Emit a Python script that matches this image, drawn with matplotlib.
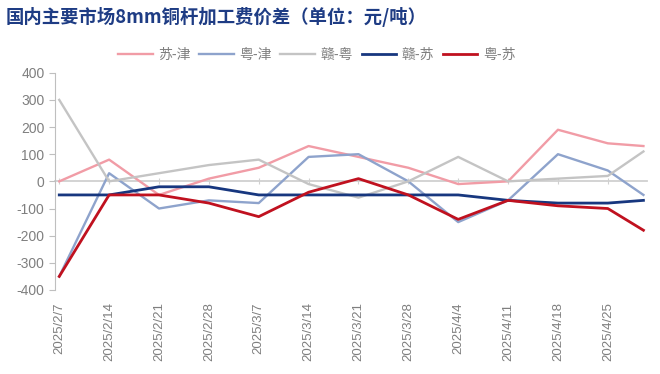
import datetime as dt
import matplotlib
matplotlib.use("Agg")
import matplotlib.pyplot as plt

plt.rcParams['font.family'] = ['Noto Sans CJK SC', 'DejaVu Sans']
plt.rcParams['axes.unicode_minus'] = False

# weekly dates, last point is 2025/4/30
dates = ["2025-02-07", "2025-02-14", "2025-02-21", "2025-02-28", "2025-03-07",
         "2025-03-14", "2025-03-21", "2025-03-28", "2025-04-04", "2025-04-11",
         "2025-04-18", "2025-04-25", "2025-04-30"]
tick_dates = dates[:-1]

su_jin = [0, 80, -50, 10, 50, 130, 90, 50, -10, 0, 190, 140, 130]
yue_jin = [-350, 30, -100, -70, -80, 90, 100, 0, -150, -70, 100, 40, -50]
gan_yue = [300, 0, 30, 60, 80, -10, -60, 0, 90, 0, 10, 20, 110]
gan_su = [-50, -50, -20, -20, -50, -50, -50, -50, -50, -70, -80, -80, -70]
yue_su = [-350, -50, -50, -80, -130, -40, 10, -50, -140, -70, -90, -100, -180]

series_names = ["苏-津", "粤-津", "赣-粤", "赣-苏", "粤-苏"]
series_vals = [su_jin, yue_jin, gan_yue, gan_su, yue_su]
colors = ["#F19CA6", "#8EA3CC", "#C4C4C4", "#17377F", "#C0111F"]
widths = [1.7, 1.7, 1.7, 2.0, 2.0]

x = [dt.datetime.strptime(d, "%Y-%m-%d") for d in dates]
xt = [dt.datetime.strptime(d, "%Y-%m-%d") for d in tick_dates]

fig = plt.figure(figsize=(6.6, 3.74), dpi=100)
ax = fig.add_axes([0.0833, 0.2246, 0.897, 0.581])

for name, vals, c, w in zip(series_names, series_vals, colors, widths):
    ax.plot(x, vals, color=c, lw=w, label=name, zorder=3)

ax.set_ylim(-400, 400)
ax.set_yticks(range(-400, 401, 100))
ax.set_xlim(x[0] - dt.timedelta(days=0.6), x[-1] + dt.timedelta(days=0.5))

grey = "#BFBFBF"
for s in ["top", "right", "bottom"]:
    ax.spines[s].set_visible(False)
ax.spines["left"].set_color(grey)
ax.tick_params(axis='y', colors=grey, length=4, labelcolor="#7F7F7F",
               labelsize=10, labelfontfamily="Liberation Sans")

# date labels along the bottom
ax.set_xticks(xt)
ax.set_xticklabels([d.strftime("%Y/%-m/%-d") for d in xt], rotation=90,
                   fontsize=9.5, color="#7F7F7F", family="Liberation Sans")
ax.tick_params(axis='x', length=0, pad=9)

# zero line with tick marks below it
zero = ax.secondary_xaxis(0.5)
for s in zero.spines.values():
    s.set_color("#D0D0D0")
    s.set_linewidth(1.3)
zero.set_xticks(xt, labels=[""] * len(xt))
zero.tick_params(axis='x', which='both', length=5, color="#D0D0D0",
                 direction='inout', labelbottom=False, labeltop=False)
zero.set_zorder(1)

fig.text(0.008, 0.955, "国内主要市场8mm铜杆加工费价差（单位：元/吨）", fontsize=13.2,
         fontweight="bold", color="#1E3C84", va="center", ha="left")

fig.legend(loc="center", bbox_to_anchor=(0.48, 0.853), ncol=5, frameon=False,
           fontsize=10, handlelength=2.5, handletextpad=0.4, columnspacing=0.6,
           labelcolor="#7F7F7F")

fig.savefig("out.png", dpi=100)
